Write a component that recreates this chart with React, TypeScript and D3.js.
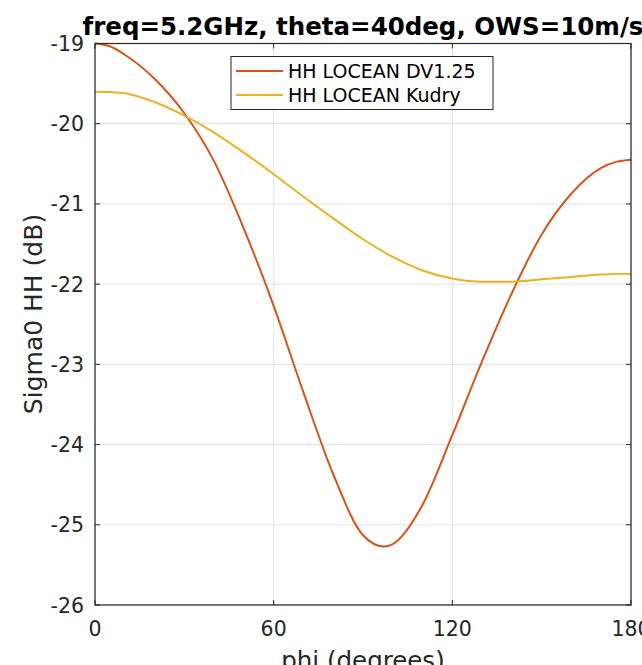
import React from "react";
import * as d3 from "d3";

const phiDV = [0,5,10,20,30,40,50,60,70,80,90,97,100,110,120,130,140,150,160,170,175,180];
const dv125 = [-19.00,-19.035,-19.14,-19.44,-19.87,-20.47,-21.31,-22.27,-23.35,-24.37,-25.13,-25.27,-25.24,-24.75,-23.88,-22.96,-22.11,-21.38,-20.87,-20.55,-20.476,-20.45];
const phiKu = [0,5,10,20,30,40,50,60,70,80,90,100,110,120,130,140,150,160,170,175,180];
const kudry = [-19.60,-19.605,-19.62,-19.73,-19.90,-20.11,-20.36,-20.63,-20.91,-21.18,-21.44,-21.66,-21.83,-21.93,-21.97,-21.97,-21.94,-21.91,-21.88,-21.872,-21.87];
const xTicks = [0,60,120,180];
const yTicks = [-26,-25,-24,-23,-22,-21,-20,-19];
const seriesNames = ["HH LOCEAN DV1.25","HH LOCEAN Kudry"];
const colors = ["#D95319","#EDB120"];

export default function App() {
  const W = 642, H = 665;
  const L = 95, R = 631, T = 43.5, B = 605;
  const x = d3.scaleLinear().domain([0,180]).range([L,R]);
  const y = d3.scaleLinear().domain([-26,-19]).range([B,T]);
  const mk = (xs: number[]) => d3.line<number>().x((_, i) => x(xs[i])).y(d => y(d)).curve(d3.curveMonotoneX);
  const font = "DejaVu Sans, sans-serif";
  const axisColor = "#262626";
  const series = [{ xs: phiDV, ys: dv125 }, { xs: phiKu, ys: kudry }];
  return (
    <svg width={W} height={H} style={{position:"absolute",left:0,top:0,background:"#fff"}} fontFamily={font}>
      <rect x={0} y={0} width={W} height={H} fill="#fff" />
      {xTicks.map(t => (
        <line key={"gx"+t} x1={x(t)} x2={x(t)} y1={T} y2={B} stroke="#e3e3e3" strokeWidth={1} />
      ))}
      {yTicks.map(t => (
        <line key={"gy"+t} x1={L} x2={R} y1={y(t)} y2={y(t)} stroke="#e3e3e3" strokeWidth={1} />
      ))}
      {series.map((s, i) => (
        <path key={"s"+i} d={mk(s.xs)(s.ys) || ""} fill="none" stroke={colors[i]} strokeWidth={2} />
      ))}
      <rect x={L} y={T} width={R-L} height={B-T} fill="none" stroke={axisColor} strokeWidth={1.2} />
      {xTicks.map(t => (
        <g key={"tx"+t}>
          <line x1={x(t)} x2={x(t)} y1={B} y2={B-5} stroke={axisColor} />
          <line x1={x(t)} x2={x(t)} y1={T} y2={T+5} stroke={axisColor} />
          <text x={x(t)} y={636} textAnchor="middle" fontSize={20.5} fill={axisColor}>{t}</text>
        </g>
      ))}
      {yTicks.map(t => (
        <g key={"ty"+t}>
          <line x1={L} x2={L+5} y1={y(t)} y2={y(t)} stroke={axisColor} />
          <line x1={R} x2={R-5} y1={y(t)} y2={y(t)} stroke={axisColor} />
          <text x={84} y={y(t)+7.5} textAnchor="end" fontSize={20.5} fill={axisColor}>{t}</text>
        </g>
      ))}
      <text x={(L+R)/2} y={35} textAnchor="middle" fontSize={24.5} fontWeight="bold" fill="#000">freq=5.2GHz, theta=40deg, OWS=10m/s</text>
      <text x={(L+R)/2} y={669} textAnchor="middle" fontSize={24.5} fill={axisColor}>phi (degrees)</text>
      <text transform={`translate(42,314) rotate(-90)`} textAnchor="middle" fontSize={25} fill={axisColor}>Sigma0 HH (dB)</text>
      <g>
        <rect x={231} y={56.5} width={262} height={53} fill="#fff" stroke={axisColor} strokeWidth={1} />
        {seriesNames.map((n, i) => (
          <g key={"lg"+i}>
            <line x1={236} x2={283} y1={71 + i*24} y2={71 + i*24} stroke={colors[i]} strokeWidth={2} />
            <text x={288} y={78 + i*24} fontSize={19} fill="#000">{n}</text>
          </g>
        ))}
      </g>
    </svg>
  );
}
